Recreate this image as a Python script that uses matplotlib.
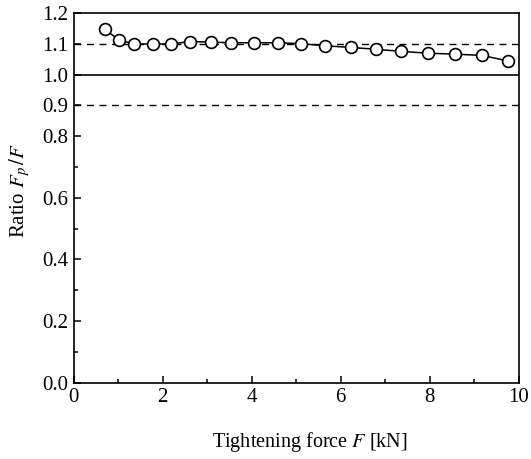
import matplotlib
matplotlib.use('Agg')
import matplotlib.pyplot as plt
from matplotlib.ticker import MultipleLocator, FixedLocator, FormatStrFormatter

# tightening force [kN] and ratio Fp/F
force = [0.69, 1.02, 1.35, 1.77, 2.18, 2.61, 3.08, 3.53, 4.06, 4.59,
         5.11, 5.65, 6.22, 6.78, 7.36, 7.97, 8.57, 9.17, 9.76]
ratio = [1.147, 1.112, 1.099, 1.099, 1.099, 1.107, 1.105, 1.103, 1.103, 1.103,
         1.100, 1.093, 1.088, 1.082, 1.075, 1.069, 1.066, 1.062, 1.044]

y_major = [0.0, 0.2, 0.4, 0.6, 0.8, 0.9, 1.0, 1.1, 1.2]
y_minor = [0.1, 0.3, 0.5, 0.7]

plt.rcParams['font.family'] = 'Liberation Serif'
plt.rcParams['mathtext.fontset'] = 'stix'

fig = plt.figure(figsize=(5.31, 4.59), dpi=100)
ax = fig.add_axes([0.139, 0.166, 0.838, 0.806])

# reference lines
ax.axhline(1.0, color='black', lw=1.2)
ax.axhline(1.1, color='black', lw=1.0, ls=(0, (5, 4)))
ax.axhline(0.9, color='black', lw=1.0, ls=(0, (5, 4)))

ax.plot(force, ratio, color='black', lw=1.1, marker='o', markersize=8.5,
        markerfacecolor='white', markeredgecolor='black', markeredgewidth=1.2)

ax.set_xlim(0, 10)
ax.set_ylim(0, 1.2)
ax.xaxis.set_major_locator(MultipleLocator(2))
ax.xaxis.set_minor_locator(MultipleLocator(1))
ax.yaxis.set_major_locator(FixedLocator(y_major))
ax.yaxis.set_minor_locator(FixedLocator(y_minor))
ax.yaxis.set_major_formatter(FormatStrFormatter('%.1f'))
ax.xaxis.set_major_formatter(FormatStrFormatter('%d'))
ax.tick_params(which='both', direction='in', labelsize=15, width=1.1)
ax.tick_params(which='major', length=5, pad=4)
ax.tick_params(which='minor', length=3)
for s in ax.spines.values():
    s.set_linewidth(1.2)

ax.set_xlabel('Tightening force $F$ [kN]', fontsize=14.5)
ax.xaxis.set_label_coords(0.53, -0.127)
ax.set_ylabel('Ratio $F_p\\,/F$', fontsize=15)
ax.yaxis.set_label_coords(-0.093, 0.52)

fig.savefig('out.png', dpi=100)
